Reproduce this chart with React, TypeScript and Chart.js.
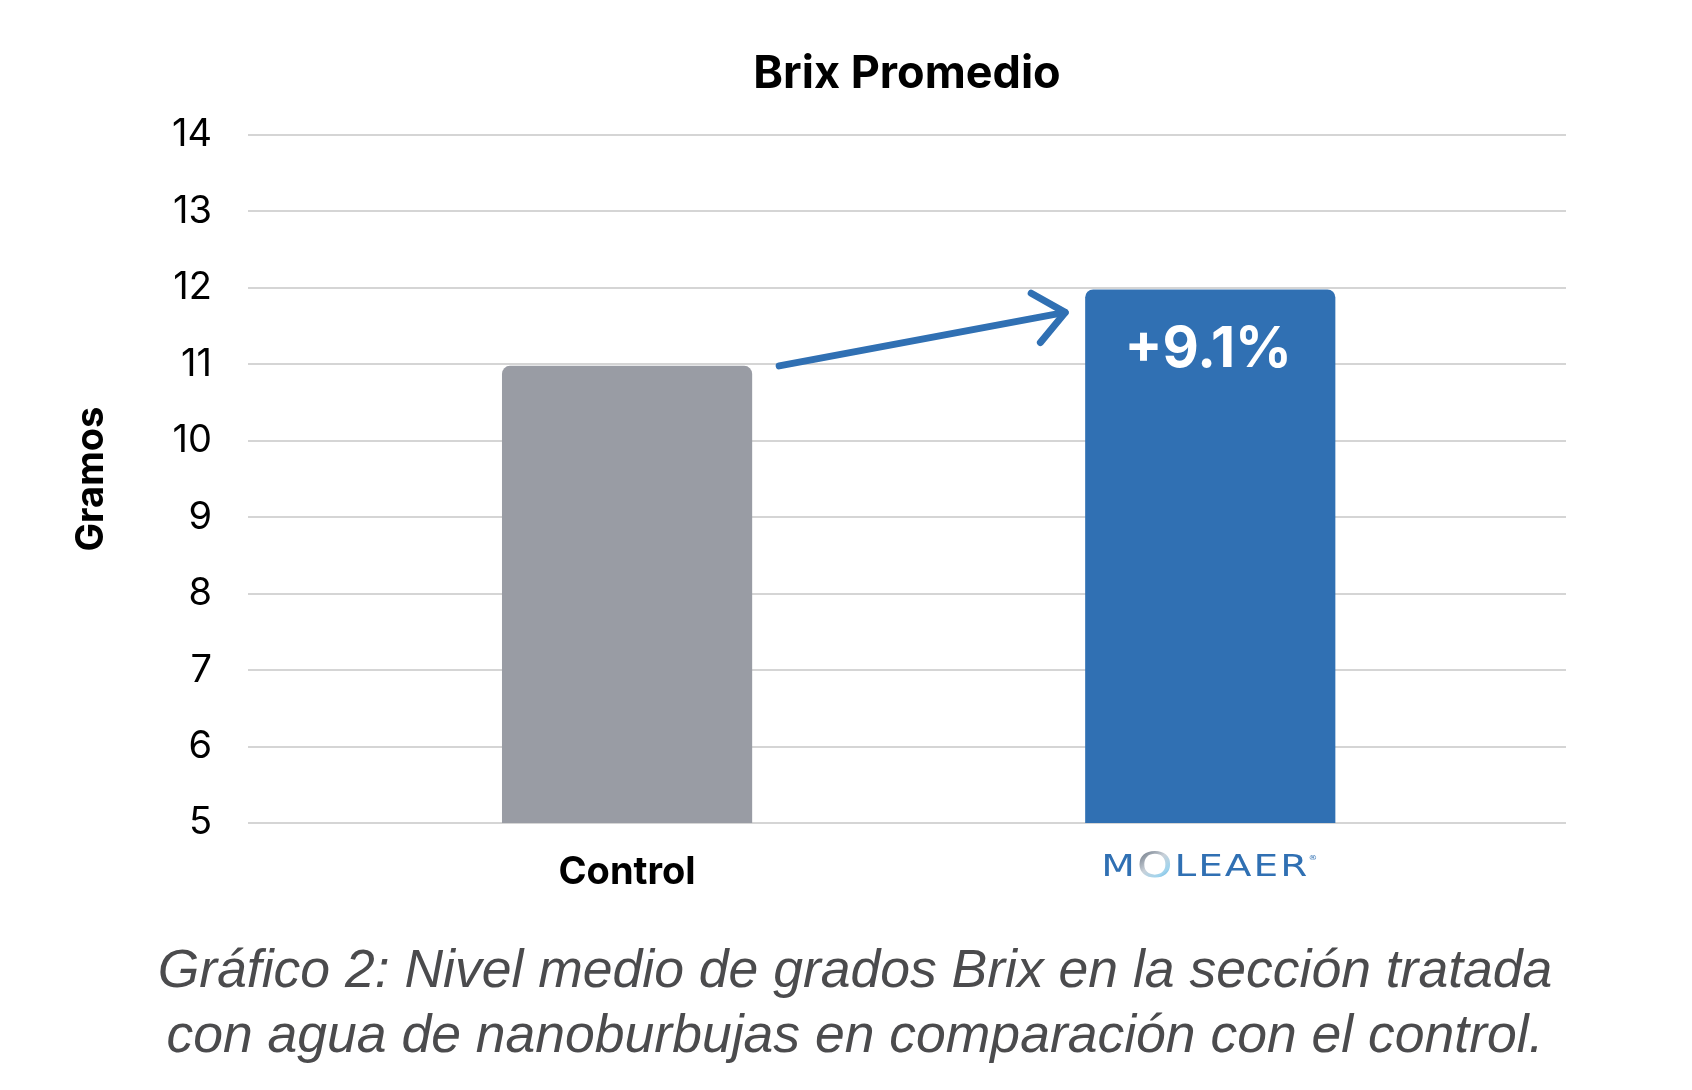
import React, { useEffect, useRef } from "react";
import { Chart, registerables } from "chart.js";

Chart.register(...registerables);

const chartTitle = "Brix Promedio";
const yAxisTitle = "Gramos";
const categories = ["Control", "MOLEAER"];
const brixValues = [10.98, 11.98];
const barColors = ["#999ca4", "#3070b3"];
const yMin = 5;
const yMax = 14;
const yStep = 1;
const captionLines = [
  "Gráfico 2: Nivel medio de grados Brix en la sección tratada",
  "con agua de nanoburbujas en comparación con el control.",
];

const BLUE = "#3070b3";

const annotationPlugin = {
  id: "brixAnnotations",
  afterDatasetsDraw(chart: any) {
    const ctx = chart.ctx;
    const meta = chart.getDatasetMeta(0);
    const b0 = meta.data[0];
    const b1 = meta.data[1];
    if (!b0 || !b1) return;
    const w0 = b0.width;
    const w1 = b1.width;

    const pct = ((brixValues[1] / brixValues[0] - 1) * 100).toFixed(1);
    ctx.save();
    ctx.fillStyle = "#ffffff";
    ctx.font = "bold 56px Inter";
    ctx.textAlign = "center";
    ctx.textBaseline = "middle";
    ctx.fillText("+" + pct + "%", b1.x - 2, b1.y + 61);
    ctx.restore();

    const sx = b0.x + w0 / 2 + 27;
    const sy = b0.y;
    const ex = b1.x - w1 / 2 - 20;
    const ey = b1.y + 23;
    const ang = Math.atan2(ey - sy, ex - sx);
    const L = 39;
    const spread = (40 * Math.PI) / 180;
    ctx.save();
    ctx.strokeStyle = BLUE;
    ctx.lineWidth = 7;
    ctx.lineCap = "round";
    ctx.lineJoin = "round";
    ctx.beginPath();
    ctx.moveTo(sx, sy);
    ctx.lineTo(ex, ey);
    ctx.stroke();
    ctx.beginPath();
    ctx.moveTo(ex + L * Math.cos(ang + Math.PI - spread), ey + L * Math.sin(ang + Math.PI - spread));
    ctx.lineTo(ex, ey);
    ctx.lineTo(ex + L * Math.cos(ang + Math.PI + spread), ey + L * Math.sin(ang + Math.PI + spread));
    ctx.stroke();
    ctx.restore();
  },
  afterDraw(chart: any) {
    const ctx = chart.ctx;
    const xScale = chart.scales.x;
    const cx = xScale.getPixelForValue(2) - 2;
    const cy = chart.chartArea.bottom + 45;
    const word = categories[1];
    ctx.save();
    ctx.textBaseline = "middle";
    ctx.textAlign = "left";
    const fonts = word.split("").map((c: string, i: number) =>
      i === 1 ? "36px 'DejaVu Sans'" : "31px 'DejaVu Sans'"
    );
    const widths = word.split("").map((c: string, i: number) => {
      ctx.font = fonts[i];
      return ctx.measureText(c).width;
    });
    const sum = widths.reduce((a: number, b: number) => a + b, 0);
    const target = 206;
    const sp = 2;
    const sx = (target - sp * (word.length - 1)) / sum;
    ctx.translate(cx - (target + 8) / 2, cy);
    ctx.scale(sx, 1);
    let x = 0;
    word.split("").forEach((c: string, i: number) => {
      ctx.font = fonts[i];
      if (c === "O" && i === 1) {
        const g = ctx.createLinearGradient(x, -14, x + widths[i], 14);
        g.addColorStop(0, "#6f7885");
        g.addColorStop(0.4, "#c9d1d9");
        g.addColorStop(0.7, "#9fd4ee");
        g.addColorStop(1, "#3f8fc8");
        ctx.fillStyle = g;
      } else {
        ctx.fillStyle = BLUE;
      }
      ctx.fillText(c, x, 0);
      x += widths[i] + sp / sx;
    });
    ctx.fillStyle = BLUE;
    ctx.font = "7px 'DejaVu Sans'";
    ctx.fillText("®", x - sp / sx + 1, -10);
    ctx.restore();
  },
};

export default function App() {
  const canvasRef = useRef<HTMLCanvasElement | null>(null);

  useEffect(() => {
    if (!canvasRef.current) return;
    const chart = new Chart(canvasRef.current, {
      type: "bar",
      data: {
        datasets: [
          {
            data: categories.map((c, i) => ({ x: i + 1, y: brixValues[i] })),
            backgroundColor: barColors,
            borderRadius: 8,
            borderSkipped: "bottom",
            categoryPercentage: 1,
            barPercentage: 0.429,
          },
        ],
      },
      options: {
        responsive: false,
        animation: false,
        devicePixelRatio: 1,
        layout: { padding: { left: 0, right: 126, top: 0, bottom: 0 } },
        plugins: {
          legend: { display: false },
          tooltip: { enabled: false },
          title: {
            display: true,
            text: chartTitle,
            fullSize: false,
            color: "#000000",
            font: { family: "Inter", size: 45, weight: "bold", lineHeight: 1.2 },
            padding: { top: 47, bottom: 34 },
          },
        },
        scales: {
          x: {
            type: "linear",
            min: 0.35,
            max: 2.61,
            offset: false,
            bounds: "data",
            grid: { display: false, drawTicks: false, offset: false },
            border: { display: false },
            afterBuildTicks: (axis: any) => {
              axis.ticks = categories.map((c, i) => ({ value: i + 1 }));
            },
            afterFit: (axis: any) => {
              axis.height = 267;
            },
            ticks: {
              padding: 27,
              color: "#000000",
              font: { family: "Inter", size: 38, weight: "bold", lineHeight: 1.2 },
              callback: (v: any) => {
                const idx = Math.round(Number(v)) - 1;
                return idx === 0 ? categories[0] : "";
              },
            },
          },
          y: {
            min: yMin,
            max: yMax,
            grid: { color: "#d5d5d5", lineWidth: 2, drawTicks: false },
            border: { display: false },
            afterFit: (axis: any) => {
              axis.width = 248;
            },
            ticks: {
              stepSize: yStep,
              padding: 36,
              color: "#000000",
              font: { family: "Inter", size: 38 },
            },
            title: {
              display: true,
              text: yAxisTitle,
              color: "#000000",
              font: { family: "Inter", size: 38, weight: "bold", lineHeight: 1.2 },
              padding: { top: 69, bottom: 0 },
            },
          },
        },
      },
      plugins: [annotationPlugin],
    } as any);
    return () => chart.destroy();
  }, []);

  return (
    <div style={{ position: "absolute", left: 0, top: 0, width: 1692, height: 1090, background: "#ffffff" }}>
      <canvas ref={canvasRef} width={1692} height={1090} style={{ position: "absolute", left: 0, top: 0 }} />
      <div
        style={{
          position: "absolute",
          left: 21,
          width: 1668,
          top: 936,
          textAlign: "center",
          fontFamily: "'Liberation Sans', Arial, sans-serif",
          fontStyle: "italic",
          fontSize: 53.5,
          lineHeight: "65px",
          color: "#4b4b4d",
          whiteSpace: "nowrap",
        }}
      >
        {captionLines.map((l, i) => (
          <div key={i}>{l}</div>
        ))}
      </div>
    </div>
  );
}
